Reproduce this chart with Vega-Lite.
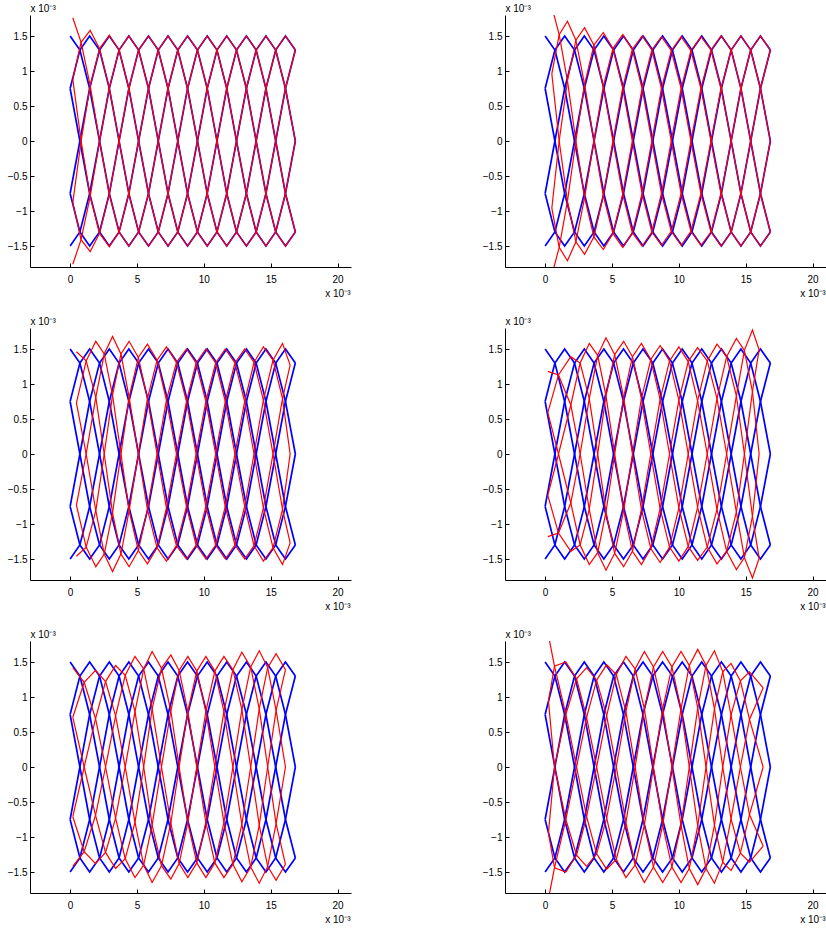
{
"$schema":"https://vega.github.io/schema/vega-lite/v6.json",
"padding":{"left":7,"top":3,"right":0,"bottom":0},
"bounds":"flush",
"columns":2,
"spacing":{"row":61,"column":154},
"config":{
"view":{"stroke":null},
"font":"Liberation Sans",
"axis":{"grid":false,"domainColor":"#000","tickColor":"#000","labelColor":"#000","labelFontSize":10,"titleFontSize":10,"titleFontWeight":"normal","titleColor":"#000","tickSize":-4,"domainWidth":1,"tickWidth":1,"labelFont":"Liberation Sans","titleFont":"Liberation Sans"},
"axisX":{"labelPadding":11,"titleAlign":"right","titleX":320,"titleY":29,"titleBaseline":"alphabetic"},
"axisY":{"labelPadding":7,"titleAngle":0,"titleAlign":"left","titleX":0,"titleY":-4,"titleBaseline":"alphabetic"}
},
"datasets":{
"blue":[
{"w":0,"x":0,"y":1.5},{"w":0,"x":0.73,"y":1.3},{"w":0,"x":1.46,"y":0.75},{"w":0,"x":2.2,"y":0},{"w":0,"x":2.93,"y":-0.75},{"w":0,"x":3.66,"y":-1.3},{"w":0,"x":4.39,"y":-1.5},{"w":0,"x":5.12,"y":-1.3},{"w":0,"x":5.86,"y":-0.75},{"w":0,"x":6.59,"y":0},{"w":0,"x":7.32,"y":0.75},{"w":0,"x":8.05,"y":1.3},{"w":0,"x":8.78,"y":1.5},{"w":0,"x":9.52,"y":1.3},{"w":0,"x":10.25,"y":0.75},{"w":0,"x":10.98,"y":0},{"w":0,"x":11.71,"y":-0.75},{"w":0,"x":12.44,"y":-1.3},{"w":0,"x":13.18,"y":-1.5},{"w":0,"x":13.91,"y":-1.3},{"w":0,"x":14.64,"y":-0.75},{"w":0,"x":15.37,"y":0},{"w":0,"x":16.1,"y":0.75},{"w":0,"x":16.84,"y":1.3},
{"w":1,"x":0,"y":0.75},{"w":1,"x":0.73,"y":0},{"w":1,"x":1.46,"y":-0.75},{"w":1,"x":2.2,"y":-1.3},{"w":1,"x":2.93,"y":-1.5},{"w":1,"x":3.66,"y":-1.3},{"w":1,"x":4.39,"y":-0.75},{"w":1,"x":5.12,"y":0},{"w":1,"x":5.86,"y":0.75},{"w":1,"x":6.59,"y":1.3},{"w":1,"x":7.32,"y":1.5},{"w":1,"x":8.05,"y":1.3},{"w":1,"x":8.78,"y":0.75},{"w":1,"x":9.52,"y":0},{"w":1,"x":10.25,"y":-0.75},{"w":1,"x":10.98,"y":-1.3},{"w":1,"x":11.71,"y":-1.5},{"w":1,"x":12.44,"y":-1.3},{"w":1,"x":13.18,"y":-0.75},{"w":1,"x":13.91,"y":0},{"w":1,"x":14.64,"y":0.75},{"w":1,"x":15.37,"y":1.3},{"w":1,"x":16.1,"y":1.5},{"w":1,"x":16.84,"y":1.3},
{"w":2,"x":0,"y":-0.75},{"w":2,"x":0.73,"y":-1.3},{"w":2,"x":1.46,"y":-1.5},{"w":2,"x":2.2,"y":-1.3},{"w":2,"x":2.93,"y":-0.75},{"w":2,"x":3.66,"y":0},{"w":2,"x":4.39,"y":0.75},{"w":2,"x":5.12,"y":1.3},{"w":2,"x":5.86,"y":1.5},{"w":2,"x":6.59,"y":1.3},{"w":2,"x":7.32,"y":0.75},{"w":2,"x":8.05,"y":0},{"w":2,"x":8.78,"y":-0.75},{"w":2,"x":9.52,"y":-1.3},{"w":2,"x":10.25,"y":-1.5},{"w":2,"x":10.98,"y":-1.3},{"w":2,"x":11.71,"y":-0.75},{"w":2,"x":12.44,"y":0},{"w":2,"x":13.18,"y":0.75},{"w":2,"x":13.91,"y":1.3},{"w":2,"x":14.64,"y":1.5},{"w":2,"x":15.37,"y":1.3},{"w":2,"x":16.1,"y":0.75},{"w":2,"x":16.84,"y":0},
{"w":3,"x":0,"y":-1.5},{"w":3,"x":0.73,"y":-1.3},{"w":3,"x":1.46,"y":-0.75},{"w":3,"x":2.2,"y":0},{"w":3,"x":2.93,"y":0.75},{"w":3,"x":3.66,"y":1.3},{"w":3,"x":4.39,"y":1.5},{"w":3,"x":5.12,"y":1.3},{"w":3,"x":5.86,"y":0.75},{"w":3,"x":6.59,"y":0},{"w":3,"x":7.32,"y":-0.75},{"w":3,"x":8.05,"y":-1.3},{"w":3,"x":8.78,"y":-1.5},{"w":3,"x":9.52,"y":-1.3},{"w":3,"x":10.25,"y":-0.75},{"w":3,"x":10.98,"y":0},{"w":3,"x":11.71,"y":0.75},{"w":3,"x":12.44,"y":1.3},{"w":3,"x":13.18,"y":1.5},{"w":3,"x":13.91,"y":1.3},{"w":3,"x":14.64,"y":0.75},{"w":3,"x":15.37,"y":0},{"w":3,"x":16.1,"y":-0.75},{"w":3,"x":16.84,"y":-1.3},
{"w":4,"x":0,"y":-0.75},{"w":4,"x":0.73,"y":0},{"w":4,"x":1.46,"y":0.75},{"w":4,"x":2.2,"y":1.3},{"w":4,"x":2.93,"y":1.5},{"w":4,"x":3.66,"y":1.3},{"w":4,"x":4.39,"y":0.75},{"w":4,"x":5.12,"y":0},{"w":4,"x":5.86,"y":-0.75},{"w":4,"x":6.59,"y":-1.3},{"w":4,"x":7.32,"y":-1.5},{"w":4,"x":8.05,"y":-1.3},{"w":4,"x":8.78,"y":-0.75},{"w":4,"x":9.52,"y":0},{"w":4,"x":10.25,"y":0.75},{"w":4,"x":10.98,"y":1.3},{"w":4,"x":11.71,"y":1.5},{"w":4,"x":12.44,"y":1.3},{"w":4,"x":13.18,"y":0.75},{"w":4,"x":13.91,"y":0},{"w":4,"x":14.64,"y":-0.75},{"w":4,"x":15.37,"y":-1.3},{"w":4,"x":16.1,"y":-1.5},{"w":4,"x":16.84,"y":-1.3},
{"w":5,"x":0,"y":0.75},{"w":5,"x":0.73,"y":1.3},{"w":5,"x":1.46,"y":1.5},{"w":5,"x":2.2,"y":1.3},{"w":5,"x":2.93,"y":0.75},{"w":5,"x":3.66,"y":0},{"w":5,"x":4.39,"y":-0.75},{"w":5,"x":5.12,"y":-1.3},{"w":5,"x":5.86,"y":-1.5},{"w":5,"x":6.59,"y":-1.3},{"w":5,"x":7.32,"y":-0.75},{"w":5,"x":8.05,"y":0},{"w":5,"x":8.78,"y":0.75},{"w":5,"x":9.52,"y":1.3},{"w":5,"x":10.25,"y":1.5},{"w":5,"x":10.98,"y":1.3},{"w":5,"x":11.71,"y":0.75},{"w":5,"x":12.44,"y":0},{"w":5,"x":13.18,"y":-0.75},{"w":5,"x":13.91,"y":-1.3},{"w":5,"x":14.64,"y":-1.5},{"w":5,"x":15.37,"y":-1.3},{"w":5,"x":16.1,"y":-0.75},{"w":5,"x":16.84,"y":0}
],
"r1":[
{"w":0,"x":0.2,"y":1.76},{"w":0,"x":0.82,"y":1.41},{"w":0,"x":1.5,"y":0.79},{"w":0,"x":2.2,"y":0},{"w":0,"x":2.93,"y":-0.76},{"w":0,"x":3.66,"y":-1.3},{"w":0,"x":4.39,"y":-1.5},{"w":0,"x":5.12,"y":-1.3},{"w":0,"x":5.86,"y":-0.75},{"w":0,"x":6.59,"y":0},{"w":0,"x":7.32,"y":0.75},{"w":0,"x":8.05,"y":1.3},{"w":0,"x":8.78,"y":1.5},{"w":0,"x":9.52,"y":1.3},{"w":0,"x":10.25,"y":0.75},{"w":0,"x":10.98,"y":0},{"w":0,"x":11.71,"y":-0.75},{"w":0,"x":12.44,"y":-1.3},{"w":0,"x":13.18,"y":-1.5},{"w":0,"x":13.91,"y":-1.3},{"w":0,"x":14.64,"y":-0.75},{"w":0,"x":15.37,"y":0},{"w":0,"x":16.1,"y":0.75},{"w":0,"x":16.84,"y":1.3},
{"w":1,"x":0.2,"y":0.88},{"w":1,"x":0.82,"y":0},{"w":1,"x":1.5,"y":-0.79},{"w":1,"x":2.2,"y":-1.32},{"w":1,"x":2.93,"y":-1.51},{"w":1,"x":3.66,"y":-1.3},{"w":1,"x":4.39,"y":-0.75},{"w":1,"x":5.12,"y":0},{"w":1,"x":5.86,"y":0.75},{"w":1,"x":6.59,"y":1.3},{"w":1,"x":7.32,"y":1.5},{"w":1,"x":8.05,"y":1.3},{"w":1,"x":8.78,"y":0.75},{"w":1,"x":9.52,"y":0},{"w":1,"x":10.25,"y":-0.75},{"w":1,"x":10.98,"y":-1.3},{"w":1,"x":11.71,"y":-1.5},{"w":1,"x":12.44,"y":-1.3},{"w":1,"x":13.18,"y":-0.75},{"w":1,"x":13.91,"y":0},{"w":1,"x":14.64,"y":0.75},{"w":1,"x":15.37,"y":1.3},{"w":1,"x":16.1,"y":1.5},{"w":1,"x":16.84,"y":1.3},
{"w":2,"x":0.2,"y":-0.88},{"w":2,"x":0.82,"y":-1.41},{"w":2,"x":1.5,"y":-1.58},{"w":2,"x":2.2,"y":-1.32},{"w":2,"x":2.93,"y":-0.76},{"w":2,"x":3.66,"y":0},{"w":2,"x":4.39,"y":0.75},{"w":2,"x":5.12,"y":1.3},{"w":2,"x":5.86,"y":1.5},{"w":2,"x":6.59,"y":1.3},{"w":2,"x":7.32,"y":0.75},{"w":2,"x":8.05,"y":0},{"w":2,"x":8.78,"y":-0.75},{"w":2,"x":9.52,"y":-1.3},{"w":2,"x":10.25,"y":-1.5},{"w":2,"x":10.98,"y":-1.3},{"w":2,"x":11.71,"y":-0.75},{"w":2,"x":12.44,"y":0},{"w":2,"x":13.18,"y":0.75},{"w":2,"x":13.91,"y":1.3},{"w":2,"x":14.64,"y":1.5},{"w":2,"x":15.37,"y":1.3},{"w":2,"x":16.1,"y":0.75},{"w":2,"x":16.84,"y":0},
{"w":3,"x":0.2,"y":-1.76},{"w":3,"x":0.82,"y":-1.41},{"w":3,"x":1.5,"y":-0.79},{"w":3,"x":2.2,"y":0},{"w":3,"x":2.93,"y":0.76},{"w":3,"x":3.66,"y":1.3},{"w":3,"x":4.39,"y":1.5},{"w":3,"x":5.12,"y":1.3},{"w":3,"x":5.86,"y":0.75},{"w":3,"x":6.59,"y":0},{"w":3,"x":7.32,"y":-0.75},{"w":3,"x":8.05,"y":-1.3},{"w":3,"x":8.78,"y":-1.5},{"w":3,"x":9.52,"y":-1.3},{"w":3,"x":10.25,"y":-0.75},{"w":3,"x":10.98,"y":0},{"w":3,"x":11.71,"y":0.75},{"w":3,"x":12.44,"y":1.3},{"w":3,"x":13.18,"y":1.5},{"w":3,"x":13.91,"y":1.3},{"w":3,"x":14.64,"y":0.75},{"w":3,"x":15.37,"y":0},{"w":3,"x":16.1,"y":-0.75},{"w":3,"x":16.84,"y":-1.3},
{"w":4,"x":0.2,"y":-0.88},{"w":4,"x":0.82,"y":0},{"w":4,"x":1.5,"y":0.79},{"w":4,"x":2.2,"y":1.32},{"w":4,"x":2.93,"y":1.51},{"w":4,"x":3.66,"y":1.3},{"w":4,"x":4.39,"y":0.75},{"w":4,"x":5.12,"y":0},{"w":4,"x":5.86,"y":-0.75},{"w":4,"x":6.59,"y":-1.3},{"w":4,"x":7.32,"y":-1.5},{"w":4,"x":8.05,"y":-1.3},{"w":4,"x":8.78,"y":-0.75},{"w":4,"x":9.52,"y":0},{"w":4,"x":10.25,"y":0.75},{"w":4,"x":10.98,"y":1.3},{"w":4,"x":11.71,"y":1.5},{"w":4,"x":12.44,"y":1.3},{"w":4,"x":13.18,"y":0.75},{"w":4,"x":13.91,"y":0},{"w":4,"x":14.64,"y":-0.75},{"w":4,"x":15.37,"y":-1.3},{"w":4,"x":16.1,"y":-1.5},{"w":4,"x":16.84,"y":-1.3},
{"w":5,"x":0.2,"y":0.88},{"w":5,"x":0.82,"y":1.41},{"w":5,"x":1.5,"y":1.58},{"w":5,"x":2.2,"y":1.32},{"w":5,"x":2.93,"y":0.76},{"w":5,"x":3.66,"y":0},{"w":5,"x":4.39,"y":-0.75},{"w":5,"x":5.12,"y":-1.3},{"w":5,"x":5.86,"y":-1.5},{"w":5,"x":6.59,"y":-1.3},{"w":5,"x":7.32,"y":-0.75},{"w":5,"x":8.05,"y":0},{"w":5,"x":8.78,"y":0.75},{"w":5,"x":9.52,"y":1.3},{"w":5,"x":10.25,"y":1.5},{"w":5,"x":10.98,"y":1.3},{"w":5,"x":11.71,"y":0.75},{"w":5,"x":12.44,"y":0},{"w":5,"x":13.18,"y":-0.75},{"w":5,"x":13.91,"y":-1.3},{"w":5,"x":14.64,"y":-1.5},{"w":5,"x":15.37,"y":-1.3},{"w":5,"x":16.1,"y":-0.75},{"w":5,"x":16.84,"y":0}
],
"r2":[
{"w":0,"x":0.5,"y":1.92},{"w":0,"x":1.05,"y":1.52},{"w":0,"x":1.67,"y":0.86},{"w":0,"x":2.3,"y":0},{"w":0,"x":2.95,"y":-0.81},{"w":0,"x":3.65,"y":-1.37},{"w":0,"x":4.35,"y":-1.55},{"w":0,"x":5.07,"y":-1.32},{"w":0,"x":5.8,"y":-0.76},{"w":0,"x":6.52,"y":0},{"w":0,"x":7.25,"y":0.75},{"w":0,"x":7.98,"y":1.3},{"w":0,"x":8.7,"y":1.49},{"w":0,"x":9.43,"y":1.29},{"w":0,"x":10.17,"y":0.75},{"w":0,"x":10.9,"y":0},{"w":0,"x":11.65,"y":-0.75},{"w":0,"x":12.4,"y":-1.3},{"w":0,"x":13.15,"y":-1.5},{"w":0,"x":13.91,"y":-1.3},{"w":0,"x":14.64,"y":-0.75},{"w":0,"x":15.37,"y":0},{"w":0,"x":16.1,"y":0.75},{"w":0,"x":16.84,"y":1.3},
{"w":1,"x":0.5,"y":0.96},{"w":1,"x":1.05,"y":0},{"w":1,"x":1.67,"y":-0.86},{"w":1,"x":2.3,"y":-1.44},{"w":1,"x":2.95,"y":-1.62},{"w":1,"x":3.65,"y":-1.37},{"w":1,"x":4.35,"y":-0.78},{"w":1,"x":5.07,"y":0},{"w":1,"x":5.8,"y":0.76},{"w":1,"x":6.52,"y":1.31},{"w":1,"x":7.25,"y":1.5},{"w":1,"x":7.98,"y":1.3},{"w":1,"x":8.7,"y":0.75},{"w":1,"x":9.43,"y":0},{"w":1,"x":10.17,"y":-0.75},{"w":1,"x":10.9,"y":-1.29},{"w":1,"x":11.65,"y":-1.49},{"w":1,"x":12.4,"y":-1.3},{"w":1,"x":13.15,"y":-0.75},{"w":1,"x":13.91,"y":0},{"w":1,"x":14.64,"y":0.75},{"w":1,"x":15.37,"y":1.3},{"w":1,"x":16.1,"y":1.5},{"w":1,"x":16.84,"y":1.3},
{"w":2,"x":0.5,"y":-0.96},{"w":2,"x":1.05,"y":-1.52},{"w":2,"x":1.67,"y":-1.71},{"w":2,"x":2.3,"y":-1.44},{"w":2,"x":2.95,"y":-0.81},{"w":2,"x":3.65,"y":0},{"w":2,"x":4.35,"y":0.78},{"w":2,"x":5.07,"y":1.32},{"w":2,"x":5.8,"y":1.52},{"w":2,"x":6.52,"y":1.31},{"w":2,"x":7.25,"y":0.75},{"w":2,"x":7.98,"y":0},{"w":2,"x":8.7,"y":-0.75},{"w":2,"x":9.43,"y":-1.29},{"w":2,"x":10.17,"y":-1.49},{"w":2,"x":10.9,"y":-1.29},{"w":2,"x":11.65,"y":-0.75},{"w":2,"x":12.4,"y":0},{"w":2,"x":13.15,"y":0.75},{"w":2,"x":13.91,"y":1.3},{"w":2,"x":14.64,"y":1.5},{"w":2,"x":15.37,"y":1.3},{"w":2,"x":16.1,"y":0.75},{"w":2,"x":16.84,"y":0},
{"w":3,"x":0.5,"y":-1.92},{"w":3,"x":1.05,"y":-1.52},{"w":3,"x":1.67,"y":-0.86},{"w":3,"x":2.3,"y":0},{"w":3,"x":2.95,"y":0.81},{"w":3,"x":3.65,"y":1.37},{"w":3,"x":4.35,"y":1.55},{"w":3,"x":5.07,"y":1.32},{"w":3,"x":5.8,"y":0.76},{"w":3,"x":6.52,"y":0},{"w":3,"x":7.25,"y":-0.75},{"w":3,"x":7.98,"y":-1.3},{"w":3,"x":8.7,"y":-1.49},{"w":3,"x":9.43,"y":-1.29},{"w":3,"x":10.17,"y":-0.75},{"w":3,"x":10.9,"y":0},{"w":3,"x":11.65,"y":0.75},{"w":3,"x":12.4,"y":1.3},{"w":3,"x":13.15,"y":1.5},{"w":3,"x":13.91,"y":1.3},{"w":3,"x":14.64,"y":0.75},{"w":3,"x":15.37,"y":0},{"w":3,"x":16.1,"y":-0.75},{"w":3,"x":16.84,"y":-1.3},
{"w":4,"x":0.5,"y":-0.96},{"w":4,"x":1.05,"y":0},{"w":4,"x":1.67,"y":0.86},{"w":4,"x":2.3,"y":1.44},{"w":4,"x":2.95,"y":1.62},{"w":4,"x":3.65,"y":1.37},{"w":4,"x":4.35,"y":0.78},{"w":4,"x":5.07,"y":0},{"w":4,"x":5.8,"y":-0.76},{"w":4,"x":6.52,"y":-1.31},{"w":4,"x":7.25,"y":-1.5},{"w":4,"x":7.98,"y":-1.3},{"w":4,"x":8.7,"y":-0.75},{"w":4,"x":9.43,"y":0},{"w":4,"x":10.17,"y":0.75},{"w":4,"x":10.9,"y":1.29},{"w":4,"x":11.65,"y":1.49},{"w":4,"x":12.4,"y":1.3},{"w":4,"x":13.15,"y":0.75},{"w":4,"x":13.91,"y":0},{"w":4,"x":14.64,"y":-0.75},{"w":4,"x":15.37,"y":-1.3},{"w":4,"x":16.1,"y":-1.5},{"w":4,"x":16.84,"y":-1.3},
{"w":5,"x":0.5,"y":0.96},{"w":5,"x":1.05,"y":1.52},{"w":5,"x":1.67,"y":1.71},{"w":5,"x":2.3,"y":1.44},{"w":5,"x":2.95,"y":0.81},{"w":5,"x":3.65,"y":0},{"w":5,"x":4.35,"y":-0.78},{"w":5,"x":5.07,"y":-1.32},{"w":5,"x":5.8,"y":-1.52},{"w":5,"x":6.52,"y":-1.31},{"w":5,"x":7.25,"y":-0.75},{"w":5,"x":7.98,"y":0},{"w":5,"x":8.7,"y":0.75},{"w":5,"x":9.43,"y":1.29},{"w":5,"x":10.17,"y":1.49},{"w":5,"x":10.9,"y":1.29},{"w":5,"x":11.65,"y":0.75},{"w":5,"x":12.4,"y":0},{"w":5,"x":13.15,"y":-0.75},{"w":5,"x":13.91,"y":-1.3},{"w":5,"x":14.64,"y":-1.5},{"w":5,"x":15.37,"y":-1.3},{"w":5,"x":16.1,"y":-0.75},{"w":5,"x":16.84,"y":0}
],
"r3":[
{"w":0,"x":0.47,"y":1.46},{"w":0,"x":1.2,"y":1.33},{"w":0,"x":1.92,"y":0.81},{"w":0,"x":2.55,"y":0},{"w":0,"x":3.17,"y":-0.84},{"w":0,"x":3.8,"y":-1.43},{"w":0,"x":4.41,"y":-1.61},{"w":0,"x":5.1,"y":-1.38},{"w":0,"x":5.78,"y":-0.79},{"w":0,"x":6.5,"y":0},{"w":0,"x":7.2,"y":0.77},{"w":0,"x":7.95,"y":1.31},{"w":0,"x":8.7,"y":1.5},{"w":0,"x":9.42,"y":1.3},{"w":0,"x":10.15,"y":0.75},{"w":0,"x":10.88,"y":0},{"w":0,"x":11.6,"y":-0.75},{"w":0,"x":12.32,"y":-1.3},{"w":0,"x":13.05,"y":-1.5},{"w":0,"x":13.75,"y":-1.31},{"w":0,"x":14.45,"y":-0.77},{"w":0,"x":15.17,"y":0},{"w":0,"x":15.88,"y":0.79},{"w":0,"x":16.45,"y":1.27},
{"w":1,"x":0.47,"y":0.73},{"w":1,"x":1.2,"y":0},{"w":1,"x":1.92,"y":-0.81},{"w":1,"x":2.55,"y":-1.43},{"w":1,"x":3.17,"y":-1.68},{"w":1,"x":3.8,"y":-1.43},{"w":1,"x":4.41,"y":-0.81},{"w":1,"x":5.1,"y":0},{"w":1,"x":5.78,"y":0.79},{"w":1,"x":6.5,"y":1.34},{"w":1,"x":7.2,"y":1.53},{"w":1,"x":7.95,"y":1.31},{"w":1,"x":8.7,"y":0.75},{"w":1,"x":9.42,"y":0},{"w":1,"x":10.15,"y":-0.75},{"w":1,"x":10.88,"y":-1.3},{"w":1,"x":11.6,"y":-1.5},{"w":1,"x":12.32,"y":-1.3},{"w":1,"x":13.05,"y":-0.75},{"w":1,"x":13.75,"y":0},{"w":1,"x":14.45,"y":0.77},{"w":1,"x":15.17,"y":1.34},{"w":1,"x":15.88,"y":1.58},{"w":1,"x":16.45,"y":1.27},
{"w":2,"x":0.47,"y":-0.73},{"w":2,"x":1.2,"y":-1.33},{"w":2,"x":1.92,"y":-1.61},{"w":2,"x":2.55,"y":-1.43},{"w":2,"x":3.17,"y":-0.84},{"w":2,"x":3.8,"y":0},{"w":2,"x":4.41,"y":0.81},{"w":2,"x":5.1,"y":1.38},{"w":2,"x":5.78,"y":1.57},{"w":2,"x":6.5,"y":1.34},{"w":2,"x":7.2,"y":0.77},{"w":2,"x":7.95,"y":0},{"w":2,"x":8.7,"y":-0.75},{"w":2,"x":9.42,"y":-1.3},{"w":2,"x":10.15,"y":-1.5},{"w":2,"x":10.88,"y":-1.3},{"w":2,"x":11.6,"y":-0.75},{"w":2,"x":12.32,"y":0},{"w":2,"x":13.05,"y":0.75},{"w":2,"x":13.75,"y":1.31},{"w":2,"x":14.45,"y":1.53},{"w":2,"x":15.17,"y":1.34},{"w":2,"x":15.88,"y":0.79},{"w":2,"x":16.45,"y":0},
{"w":3,"x":0.47,"y":-1.46},{"w":3,"x":1.2,"y":-1.33},{"w":3,"x":1.92,"y":-0.81},{"w":3,"x":2.55,"y":0},{"w":3,"x":3.17,"y":0.84},{"w":3,"x":3.8,"y":1.43},{"w":3,"x":4.41,"y":1.61},{"w":3,"x":5.1,"y":1.38},{"w":3,"x":5.78,"y":0.79},{"w":3,"x":6.5,"y":0},{"w":3,"x":7.2,"y":-0.77},{"w":3,"x":7.95,"y":-1.31},{"w":3,"x":8.7,"y":-1.5},{"w":3,"x":9.42,"y":-1.3},{"w":3,"x":10.15,"y":-0.75},{"w":3,"x":10.88,"y":0},{"w":3,"x":11.6,"y":0.75},{"w":3,"x":12.32,"y":1.3},{"w":3,"x":13.05,"y":1.5},{"w":3,"x":13.75,"y":1.31},{"w":3,"x":14.45,"y":0.77},{"w":3,"x":15.17,"y":0},{"w":3,"x":15.88,"y":-0.79},{"w":3,"x":16.45,"y":-1.27},
{"w":4,"x":0.47,"y":-0.73},{"w":4,"x":1.2,"y":0},{"w":4,"x":1.92,"y":0.81},{"w":4,"x":2.55,"y":1.43},{"w":4,"x":3.17,"y":1.68},{"w":4,"x":3.8,"y":1.43},{"w":4,"x":4.41,"y":0.81},{"w":4,"x":5.1,"y":0},{"w":4,"x":5.78,"y":-0.79},{"w":4,"x":6.5,"y":-1.34},{"w":4,"x":7.2,"y":-1.53},{"w":4,"x":7.95,"y":-1.31},{"w":4,"x":8.7,"y":-0.75},{"w":4,"x":9.42,"y":0},{"w":4,"x":10.15,"y":0.75},{"w":4,"x":10.88,"y":1.3},{"w":4,"x":11.6,"y":1.5},{"w":4,"x":12.32,"y":1.3},{"w":4,"x":13.05,"y":0.75},{"w":4,"x":13.75,"y":0},{"w":4,"x":14.45,"y":-0.77},{"w":4,"x":15.17,"y":-1.34},{"w":4,"x":15.88,"y":-1.58},{"w":4,"x":16.45,"y":-1.27},
{"w":5,"x":0.47,"y":0.73},{"w":5,"x":1.2,"y":1.33},{"w":5,"x":1.92,"y":1.61},{"w":5,"x":2.55,"y":1.43},{"w":5,"x":3.17,"y":0.84},{"w":5,"x":3.8,"y":0},{"w":5,"x":4.41,"y":-0.81},{"w":5,"x":5.1,"y":-1.38},{"w":5,"x":5.78,"y":-1.57},{"w":5,"x":6.5,"y":-1.34},{"w":5,"x":7.2,"y":-0.77},{"w":5,"x":7.95,"y":0},{"w":5,"x":8.7,"y":0.75},{"w":5,"x":9.42,"y":1.3},{"w":5,"x":10.15,"y":1.5},{"w":5,"x":10.88,"y":1.3},{"w":5,"x":11.6,"y":0.75},{"w":5,"x":12.32,"y":0},{"w":5,"x":13.05,"y":-0.75},{"w":5,"x":13.75,"y":-1.31},{"w":5,"x":14.45,"y":-1.53},{"w":5,"x":15.17,"y":-1.34},{"w":5,"x":15.88,"y":-0.79},{"w":5,"x":16.45,"y":0}
],
"r4":[
{"w":0,"x":0.2,"y":1.18},{"w":0,"x":1.0,"y":1.13},{"w":0,"x":1.92,"y":0.7},{"w":0,"x":2.62,"y":0},{"w":0,"x":3.3,"y":-0.79},{"w":0,"x":3.93,"y":-1.41},{"w":0,"x":4.55,"y":-1.66},{"w":0,"x":5.2,"y":-1.42},{"w":0,"x":5.87,"y":-0.81},{"w":0,"x":6.53,"y":0},{"w":0,"x":7.2,"y":0.79},{"w":0,"x":7.9,"y":1.35},{"w":0,"x":8.6,"y":1.55},{"w":0,"x":9.3,"y":1.33},{"w":0,"x":10.0,"y":0.77},{"w":0,"x":10.7,"y":0},{"w":0,"x":11.4,"y":-0.76},{"w":0,"x":12.12,"y":-1.33},{"w":0,"x":12.85,"y":-1.57},{"w":0,"x":13.57,"y":-1.39},{"w":0,"x":14.3,"y":-0.83},{"w":0,"x":14.9,"y":0},{"w":0,"x":15.5,"y":0.89},{"w":0,"x":16.0,"y":1.49},
{"w":1,"x":0.2,"y":0.59},{"w":1,"x":1.0,"y":0},{"w":1,"x":1.92,"y":-0.7},{"w":1,"x":2.62,"y":-1.3},{"w":1,"x":3.3,"y":-1.58},{"w":1,"x":3.93,"y":-1.41},{"w":1,"x":4.55,"y":-0.83},{"w":1,"x":5.2,"y":0},{"w":1,"x":5.87,"y":0.81},{"w":1,"x":6.53,"y":1.39},{"w":1,"x":7.2,"y":1.58},{"w":1,"x":7.9,"y":1.35},{"w":1,"x":8.6,"y":0.78},{"w":1,"x":9.3,"y":0},{"w":1,"x":10.0,"y":-0.77},{"w":1,"x":10.7,"y":-1.32},{"w":1,"x":11.4,"y":-1.52},{"w":1,"x":12.12,"y":-1.33},{"w":1,"x":12.85,"y":-0.79},{"w":1,"x":13.57,"y":0},{"w":1,"x":14.3,"y":0.83},{"w":1,"x":14.9,"y":1.48},{"w":1,"x":15.5,"y":1.77},{"w":1,"x":16.0,"y":1.49},
{"w":2,"x":0.2,"y":-0.59},{"w":2,"x":1.0,"y":-1.13},{"w":2,"x":1.92,"y":-1.39},{"w":2,"x":2.62,"y":-1.3},{"w":2,"x":3.3,"y":-0.79},{"w":2,"x":3.93,"y":0},{"w":2,"x":4.55,"y":0.83},{"w":2,"x":5.2,"y":1.42},{"w":2,"x":5.87,"y":1.61},{"w":2,"x":6.53,"y":1.39},{"w":2,"x":7.2,"y":0.79},{"w":2,"x":7.9,"y":0},{"w":2,"x":8.6,"y":-0.78},{"w":2,"x":9.3,"y":-1.33},{"w":2,"x":10.0,"y":-1.53},{"w":2,"x":10.7,"y":-1.32},{"w":2,"x":11.4,"y":-0.76},{"w":2,"x":12.12,"y":0},{"w":2,"x":12.85,"y":0.79},{"w":2,"x":13.57,"y":1.39},{"w":2,"x":14.3,"y":1.65},{"w":2,"x":14.9,"y":1.48},{"w":2,"x":15.5,"y":0.89},{"w":2,"x":16.0,"y":0},
{"w":3,"x":0.2,"y":-1.18},{"w":3,"x":1.0,"y":-1.13},{"w":3,"x":1.92,"y":-0.7},{"w":3,"x":2.62,"y":0},{"w":3,"x":3.3,"y":0.79},{"w":3,"x":3.93,"y":1.41},{"w":3,"x":4.55,"y":1.66},{"w":3,"x":5.2,"y":1.42},{"w":3,"x":5.87,"y":0.81},{"w":3,"x":6.53,"y":0},{"w":3,"x":7.2,"y":-0.79},{"w":3,"x":7.9,"y":-1.35},{"w":3,"x":8.6,"y":-1.55},{"w":3,"x":9.3,"y":-1.33},{"w":3,"x":10.0,"y":-0.77},{"w":3,"x":10.7,"y":0},{"w":3,"x":11.4,"y":0.76},{"w":3,"x":12.12,"y":1.33},{"w":3,"x":12.85,"y":1.57},{"w":3,"x":13.57,"y":1.39},{"w":3,"x":14.3,"y":0.83},{"w":3,"x":14.9,"y":0},{"w":3,"x":15.5,"y":-0.89},{"w":3,"x":16.0,"y":-1.49},
{"w":4,"x":0.2,"y":-0.59},{"w":4,"x":1.0,"y":0},{"w":4,"x":1.92,"y":0.7},{"w":4,"x":2.62,"y":1.3},{"w":4,"x":3.3,"y":1.58},{"w":4,"x":3.93,"y":1.41},{"w":4,"x":4.55,"y":0.83},{"w":4,"x":5.2,"y":0},{"w":4,"x":5.87,"y":-0.81},{"w":4,"x":6.53,"y":-1.39},{"w":4,"x":7.2,"y":-1.58},{"w":4,"x":7.9,"y":-1.35},{"w":4,"x":8.6,"y":-0.78},{"w":4,"x":9.3,"y":0},{"w":4,"x":10.0,"y":0.77},{"w":4,"x":10.7,"y":1.32},{"w":4,"x":11.4,"y":1.52},{"w":4,"x":12.12,"y":1.33},{"w":4,"x":12.85,"y":0.79},{"w":4,"x":13.57,"y":0},{"w":4,"x":14.3,"y":-0.83},{"w":4,"x":14.9,"y":-1.48},{"w":4,"x":15.5,"y":-1.77},{"w":4,"x":16.0,"y":-1.49},
{"w":5,"x":0.2,"y":0.59},{"w":5,"x":1.0,"y":1.13},{"w":5,"x":1.92,"y":1.39},{"w":5,"x":2.62,"y":1.3},{"w":5,"x":3.3,"y":0.79},{"w":5,"x":3.93,"y":0},{"w":5,"x":4.55,"y":-0.83},{"w":5,"x":5.2,"y":-1.42},{"w":5,"x":5.87,"y":-1.61},{"w":5,"x":6.53,"y":-1.39},{"w":5,"x":7.2,"y":-0.79},{"w":5,"x":7.9,"y":0},{"w":5,"x":8.6,"y":0.78},{"w":5,"x":9.3,"y":1.33},{"w":5,"x":10.0,"y":1.53},{"w":5,"x":10.7,"y":1.32},{"w":5,"x":11.4,"y":0.76},{"w":5,"x":12.12,"y":0},{"w":5,"x":12.85,"y":-0.79},{"w":5,"x":13.57,"y":-1.39},{"w":5,"x":14.3,"y":-1.65},{"w":5,"x":14.9,"y":-1.48},{"w":5,"x":15.5,"y":-0.89},{"w":5,"x":16.0,"y":0}
],
"r5":[
{"w":0,"x":0.2,"y":1.42},{"w":0,"x":1.05,"y":1.21},{"w":0,"x":1.9,"y":0.69},{"w":0,"x":2.65,"y":0},{"w":0,"x":3.4,"y":-0.73},{"w":0,"x":4.12,"y":-1.31},{"w":0,"x":4.85,"y":-1.58},{"w":0,"x":5.5,"y":-1.4},{"w":0,"x":6.13,"y":-0.83},{"w":0,"x":6.83,"y":0},{"w":0,"x":7.53,"y":0.8},{"w":0,"x":8.15,"y":1.38},{"w":0,"x":8.8,"y":1.58},{"w":0,"x":9.47,"y":1.37},{"w":0,"x":10.15,"y":0.79},{"w":0,"x":10.82,"y":0},{"w":0,"x":11.5,"y":-0.79},{"w":0,"x":12.17,"y":-1.39},{"w":0,"x":12.84,"y":-1.64},{"w":0,"x":13.5,"y":-1.43},{"w":0,"x":14.14,"y":-0.83},{"w":0,"x":14.77,"y":0},{"w":0,"x":15.4,"y":0.81},{"w":0,"x":16.1,"y":1.39},
{"w":1,"x":0.2,"y":0.71},{"w":1,"x":1.05,"y":0},{"w":1,"x":1.9,"y":-0.69},{"w":1,"x":2.65,"y":-1.22},{"w":1,"x":3.4,"y":-1.45},{"w":1,"x":4.12,"y":-1.31},{"w":1,"x":4.85,"y":-0.79},{"w":1,"x":5.5,"y":0},{"w":1,"x":6.13,"y":0.83},{"w":1,"x":6.83,"y":1.41},{"w":1,"x":7.53,"y":1.6},{"w":1,"x":8.15,"y":1.38},{"w":1,"x":8.8,"y":0.79},{"w":1,"x":9.47,"y":0},{"w":1,"x":10.15,"y":-0.79},{"w":1,"x":10.82,"y":-1.37},{"w":1,"x":11.5,"y":-1.58},{"w":1,"x":12.17,"y":-1.39},{"w":1,"x":12.84,"y":-0.82},{"w":1,"x":13.5,"y":0},{"w":1,"x":14.14,"y":0.83},{"w":1,"x":14.77,"y":1.42},{"w":1,"x":15.4,"y":1.62},{"w":1,"x":16.1,"y":1.39},
{"w":2,"x":0.2,"y":-0.71},{"w":2,"x":1.05,"y":-1.21},{"w":2,"x":1.9,"y":-1.38},{"w":2,"x":2.65,"y":-1.22},{"w":2,"x":3.4,"y":-0.73},{"w":2,"x":4.12,"y":0},{"w":2,"x":4.85,"y":0.79},{"w":2,"x":5.5,"y":1.4},{"w":2,"x":6.13,"y":1.65},{"w":2,"x":6.83,"y":1.41},{"w":2,"x":7.53,"y":0.8},{"w":2,"x":8.15,"y":0},{"w":2,"x":8.8,"y":-0.79},{"w":2,"x":9.47,"y":-1.37},{"w":2,"x":10.15,"y":-1.58},{"w":2,"x":10.82,"y":-1.37},{"w":2,"x":11.5,"y":-0.79},{"w":2,"x":12.17,"y":0},{"w":2,"x":12.84,"y":0.82},{"w":2,"x":13.5,"y":1.43},{"w":2,"x":14.14,"y":1.66},{"w":2,"x":14.77,"y":1.42},{"w":2,"x":15.4,"y":0.81},{"w":2,"x":16.1,"y":0},
{"w":3,"x":0.2,"y":-1.42},{"w":3,"x":1.05,"y":-1.21},{"w":3,"x":1.9,"y":-0.69},{"w":3,"x":2.65,"y":0},{"w":3,"x":3.4,"y":0.73},{"w":3,"x":4.12,"y":1.31},{"w":3,"x":4.85,"y":1.58},{"w":3,"x":5.5,"y":1.4},{"w":3,"x":6.13,"y":0.83},{"w":3,"x":6.83,"y":0},{"w":3,"x":7.53,"y":-0.8},{"w":3,"x":8.15,"y":-1.38},{"w":3,"x":8.8,"y":-1.58},{"w":3,"x":9.47,"y":-1.37},{"w":3,"x":10.15,"y":-0.79},{"w":3,"x":10.82,"y":0},{"w":3,"x":11.5,"y":0.79},{"w":3,"x":12.17,"y":1.39},{"w":3,"x":12.84,"y":1.64},{"w":3,"x":13.5,"y":1.43},{"w":3,"x":14.14,"y":0.83},{"w":3,"x":14.77,"y":0},{"w":3,"x":15.4,"y":-0.81},{"w":3,"x":16.1,"y":-1.39},
{"w":4,"x":0.2,"y":-0.71},{"w":4,"x":1.05,"y":0},{"w":4,"x":1.9,"y":0.69},{"w":4,"x":2.65,"y":1.22},{"w":4,"x":3.4,"y":1.45},{"w":4,"x":4.12,"y":1.31},{"w":4,"x":4.85,"y":0.79},{"w":4,"x":5.5,"y":0},{"w":4,"x":6.13,"y":-0.83},{"w":4,"x":6.83,"y":-1.41},{"w":4,"x":7.53,"y":-1.6},{"w":4,"x":8.15,"y":-1.38},{"w":4,"x":8.8,"y":-0.79},{"w":4,"x":9.47,"y":0},{"w":4,"x":10.15,"y":0.79},{"w":4,"x":10.82,"y":1.37},{"w":4,"x":11.5,"y":1.58},{"w":4,"x":12.17,"y":1.39},{"w":4,"x":12.84,"y":0.82},{"w":4,"x":13.5,"y":0},{"w":4,"x":14.14,"y":-0.83},{"w":4,"x":14.77,"y":-1.42},{"w":4,"x":15.4,"y":-1.62},{"w":4,"x":16.1,"y":-1.39},
{"w":5,"x":0.2,"y":0.71},{"w":5,"x":1.05,"y":1.21},{"w":5,"x":1.9,"y":1.38},{"w":5,"x":2.65,"y":1.22},{"w":5,"x":3.4,"y":0.73},{"w":5,"x":4.12,"y":0},{"w":5,"x":4.85,"y":-0.79},{"w":5,"x":5.5,"y":-1.4},{"w":5,"x":6.13,"y":-1.65},{"w":5,"x":6.83,"y":-1.41},{"w":5,"x":7.53,"y":-0.8},{"w":5,"x":8.15,"y":0},{"w":5,"x":8.8,"y":0.79},{"w":5,"x":9.47,"y":1.37},{"w":5,"x":10.15,"y":1.58},{"w":5,"x":10.82,"y":1.37},{"w":5,"x":11.5,"y":0.79},{"w":5,"x":12.17,"y":0},{"w":5,"x":12.84,"y":-0.82},{"w":5,"x":13.5,"y":-1.43},{"w":5,"x":14.14,"y":-1.66},{"w":5,"x":14.77,"y":-1.42},{"w":5,"x":15.4,"y":-0.81},{"w":5,"x":16.1,"y":0}
],
"r6":[
{"w":0,"x":0.25,"y":1.88},{"w":0,"x":0.7,"y":1.44},{"w":0,"x":1.55,"y":0.75},{"w":0,"x":2.35,"y":0},{"w":0,"x":3.1,"y":-0.71},{"w":0,"x":3.85,"y":-1.24},{"w":0,"x":4.6,"y":-1.46},{"w":0,"x":5.32,"y":-1.32},{"w":0,"x":6.04,"y":-0.79},{"w":0,"x":6.73,"y":0},{"w":0,"x":7.42,"y":0.83},{"w":0,"x":8.1,"y":1.43},{"w":0,"x":8.79,"y":1.65},{"w":0,"x":9.48,"y":1.43},{"w":0,"x":10.16,"y":0.83},{"w":0,"x":10.78,"y":0},{"w":0,"x":11.41,"y":-0.84},{"w":0,"x":12.03,"y":-1.45},{"w":0,"x":12.66,"y":-1.66},{"w":0,"x":13.28,"y":-1.36},{"w":0,"x":13.9,"y":-0.74},{"w":0,"x":14.6,"y":0},{"w":0,"x":15.28,"y":0.68},{"w":0,"x":16.3,"y":1.13},
{"w":1,"x":0.25,"y":0.94},{"w":1,"x":0.7,"y":0},{"w":1,"x":1.55,"y":-0.75},{"w":1,"x":2.35,"y":-1.26},{"w":1,"x":3.1,"y":-1.42},{"w":1,"x":3.85,"y":-1.24},{"w":1,"x":4.6,"y":-0.73},{"w":1,"x":5.32,"y":0},{"w":1,"x":6.04,"y":0.79},{"w":1,"x":6.73,"y":1.4},{"w":1,"x":7.42,"y":1.65},{"w":1,"x":8.1,"y":1.43},{"w":1,"x":8.79,"y":0.83},{"w":1,"x":9.48,"y":0},{"w":1,"x":10.16,"y":-0.83},{"w":1,"x":10.78,"y":-1.45},{"w":1,"x":11.41,"y":-1.68},{"w":1,"x":12.03,"y":-1.45},{"w":1,"x":12.66,"y":-0.83},{"w":1,"x":13.28,"y":0},{"w":1,"x":13.9,"y":0.74},{"w":1,"x":14.6,"y":1.23},{"w":1,"x":15.28,"y":1.36},{"w":1,"x":16.3,"y":1.13},
{"w":2,"x":0.25,"y":-0.94},{"w":2,"x":0.7,"y":-1.44},{"w":2,"x":1.55,"y":-1.5},{"w":2,"x":2.35,"y":-1.26},{"w":2,"x":3.1,"y":-0.71},{"w":2,"x":3.85,"y":0},{"w":2,"x":4.6,"y":0.73},{"w":2,"x":5.32,"y":1.32},{"w":2,"x":6.04,"y":1.58},{"w":2,"x":6.73,"y":1.4},{"w":2,"x":7.42,"y":0.83},{"w":2,"x":8.1,"y":0},{"w":2,"x":8.79,"y":-0.83},{"w":2,"x":9.48,"y":-1.43},{"w":2,"x":10.16,"y":-1.65},{"w":2,"x":10.78,"y":-1.45},{"w":2,"x":11.41,"y":-0.84},{"w":2,"x":12.03,"y":0},{"w":2,"x":12.66,"y":0.83},{"w":2,"x":13.28,"y":1.36},{"w":2,"x":13.9,"y":1.48},{"w":2,"x":14.6,"y":1.23},{"w":2,"x":15.28,"y":0.68},{"w":2,"x":16.3,"y":0},
{"w":3,"x":0.25,"y":-1.88},{"w":3,"x":0.7,"y":-1.44},{"w":3,"x":1.55,"y":-0.75},{"w":3,"x":2.35,"y":0},{"w":3,"x":3.1,"y":0.71},{"w":3,"x":3.85,"y":1.24},{"w":3,"x":4.6,"y":1.46},{"w":3,"x":5.32,"y":1.32},{"w":3,"x":6.04,"y":0.79},{"w":3,"x":6.73,"y":0},{"w":3,"x":7.42,"y":-0.83},{"w":3,"x":8.1,"y":-1.43},{"w":3,"x":8.79,"y":-1.65},{"w":3,"x":9.48,"y":-1.43},{"w":3,"x":10.16,"y":-0.83},{"w":3,"x":10.78,"y":0},{"w":3,"x":11.41,"y":0.84},{"w":3,"x":12.03,"y":1.45},{"w":3,"x":12.66,"y":1.66},{"w":3,"x":13.28,"y":1.36},{"w":3,"x":13.9,"y":0.74},{"w":3,"x":14.6,"y":0},{"w":3,"x":15.28,"y":-0.68},{"w":3,"x":16.3,"y":-1.13},
{"w":4,"x":0.25,"y":-0.94},{"w":4,"x":0.7,"y":0},{"w":4,"x":1.55,"y":0.75},{"w":4,"x":2.35,"y":1.26},{"w":4,"x":3.1,"y":1.42},{"w":4,"x":3.85,"y":1.24},{"w":4,"x":4.6,"y":0.73},{"w":4,"x":5.32,"y":0},{"w":4,"x":6.04,"y":-0.79},{"w":4,"x":6.73,"y":-1.4},{"w":4,"x":7.42,"y":-1.65},{"w":4,"x":8.1,"y":-1.43},{"w":4,"x":8.79,"y":-0.83},{"w":4,"x":9.48,"y":0},{"w":4,"x":10.16,"y":0.83},{"w":4,"x":10.78,"y":1.45},{"w":4,"x":11.41,"y":1.68},{"w":4,"x":12.03,"y":1.45},{"w":4,"x":12.66,"y":0.83},{"w":4,"x":13.28,"y":0},{"w":4,"x":13.9,"y":-0.74},{"w":4,"x":14.6,"y":-1.23},{"w":4,"x":15.28,"y":-1.36},{"w":4,"x":16.3,"y":-1.13},
{"w":5,"x":0.25,"y":0.94},{"w":5,"x":0.7,"y":1.44},{"w":5,"x":1.55,"y":1.5},{"w":5,"x":2.35,"y":1.26},{"w":5,"x":3.1,"y":0.71},{"w":5,"x":3.85,"y":0},{"w":5,"x":4.6,"y":-0.73},{"w":5,"x":5.32,"y":-1.32},{"w":5,"x":6.04,"y":-1.58},{"w":5,"x":6.73,"y":-1.4},{"w":5,"x":7.42,"y":-0.83},{"w":5,"x":8.1,"y":0},{"w":5,"x":8.79,"y":0.83},{"w":5,"x":9.48,"y":1.43},{"w":5,"x":10.16,"y":1.65},{"w":5,"x":10.78,"y":1.45},{"w":5,"x":11.41,"y":0.84},{"w":5,"x":12.03,"y":0},{"w":5,"x":12.66,"y":-0.83},{"w":5,"x":13.28,"y":-1.36},{"w":5,"x":13.9,"y":-1.48},{"w":5,"x":14.6,"y":-1.23},{"w":5,"x":15.28,"y":-0.68},{"w":5,"x":16.3,"y":0}
]
},
"concat":[
{"width":321,"height":252,"encoding":{"x":{"field":"x","type":"quantitative","scale":{"domain":[-3,21],"nice":false,"zero":false},"axis":{"values":[0,5,10,15,20],"title":"x 10⁻³"}},"y":{"field":"y","type":"quantitative","scale":{"domain":[-1.8,1.8],"nice":false,"zero":false},"axis":{"values":[-1.5,-1,-0.5,0,0.5,1,1.5],"format":"~g","title":"x 10⁻³"}},"detail":{"field":"w","type":"nominal"}},
"layer":[{"data":{"name":"blue"},"mark":{"type":"line","color":"#0000ff","strokeWidth":1.7,"clip":true}},{"data":{"name":"r1"},"mark":{"type":"line","color":"#ff0000","strokeWidth":1.2,"clip":true}}]},
{"width":321,"height":252,"encoding":{"x":{"field":"x","type":"quantitative","scale":{"domain":[-3,21],"nice":false,"zero":false},"axis":{"values":[0,5,10,15,20],"title":"x 10⁻³"}},"y":{"field":"y","type":"quantitative","scale":{"domain":[-1.8,1.8],"nice":false,"zero":false},"axis":{"values":[-1.5,-1,-0.5,0,0.5,1,1.5],"format":"~g","title":"x 10⁻³"}},"detail":{"field":"w","type":"nominal"}},
"layer":[{"data":{"name":"blue"},"mark":{"type":"line","color":"#0000ff","strokeWidth":1.7,"clip":true}},{"data":{"name":"r2"},"mark":{"type":"line","color":"#ff0000","strokeWidth":1.2,"clip":true}}]},
{"width":321,"height":252,"encoding":{"x":{"field":"x","type":"quantitative","scale":{"domain":[-3,21],"nice":false,"zero":false},"axis":{"values":[0,5,10,15,20],"title":"x 10⁻³"}},"y":{"field":"y","type":"quantitative","scale":{"domain":[-1.8,1.8],"nice":false,"zero":false},"axis":{"values":[-1.5,-1,-0.5,0,0.5,1,1.5],"format":"~g","title":"x 10⁻³"}},"detail":{"field":"w","type":"nominal"}},
"layer":[{"data":{"name":"blue"},"mark":{"type":"line","color":"#0000ff","strokeWidth":1.7,"clip":true}},{"data":{"name":"r3"},"mark":{"type":"line","color":"#ff0000","strokeWidth":1.2,"clip":true}}]},
{"width":321,"height":252,"encoding":{"x":{"field":"x","type":"quantitative","scale":{"domain":[-3,21],"nice":false,"zero":false},"axis":{"values":[0,5,10,15,20],"title":"x 10⁻³"}},"y":{"field":"y","type":"quantitative","scale":{"domain":[-1.8,1.8],"nice":false,"zero":false},"axis":{"values":[-1.5,-1,-0.5,0,0.5,1,1.5],"format":"~g","title":"x 10⁻³"}},"detail":{"field":"w","type":"nominal"}},
"layer":[{"data":{"name":"blue"},"mark":{"type":"line","color":"#0000ff","strokeWidth":1.7,"clip":true}},{"data":{"name":"r4"},"mark":{"type":"line","color":"#ff0000","strokeWidth":1.2,"clip":true}}]},
{"width":321,"height":252,"encoding":{"x":{"field":"x","type":"quantitative","scale":{"domain":[-3,21],"nice":false,"zero":false},"axis":{"values":[0,5,10,15,20],"title":"x 10⁻³"}},"y":{"field":"y","type":"quantitative","scale":{"domain":[-1.8,1.8],"nice":false,"zero":false},"axis":{"values":[-1.5,-1,-0.5,0,0.5,1,1.5],"format":"~g","title":"x 10⁻³"}},"detail":{"field":"w","type":"nominal"}},
"layer":[{"data":{"name":"blue"},"mark":{"type":"line","color":"#0000ff","strokeWidth":1.7,"clip":true}},{"data":{"name":"r5"},"mark":{"type":"line","color":"#ff0000","strokeWidth":1.2,"clip":true}}]},
{"width":321,"height":252,"encoding":{"x":{"field":"x","type":"quantitative","scale":{"domain":[-3,21],"nice":false,"zero":false},"axis":{"values":[0,5,10,15,20],"title":"x 10⁻³"}},"y":{"field":"y","type":"quantitative","scale":{"domain":[-1.8,1.8],"nice":false,"zero":false},"axis":{"values":[-1.5,-1,-0.5,0,0.5,1,1.5],"format":"~g","title":"x 10⁻³"}},"detail":{"field":"w","type":"nominal"}},
"layer":[{"data":{"name":"blue"},"mark":{"type":"line","color":"#0000ff","strokeWidth":1.7,"clip":true}},{"data":{"name":"r6"},"mark":{"type":"line","color":"#ff0000","strokeWidth":1.2,"clip":true}}]}
]
}
